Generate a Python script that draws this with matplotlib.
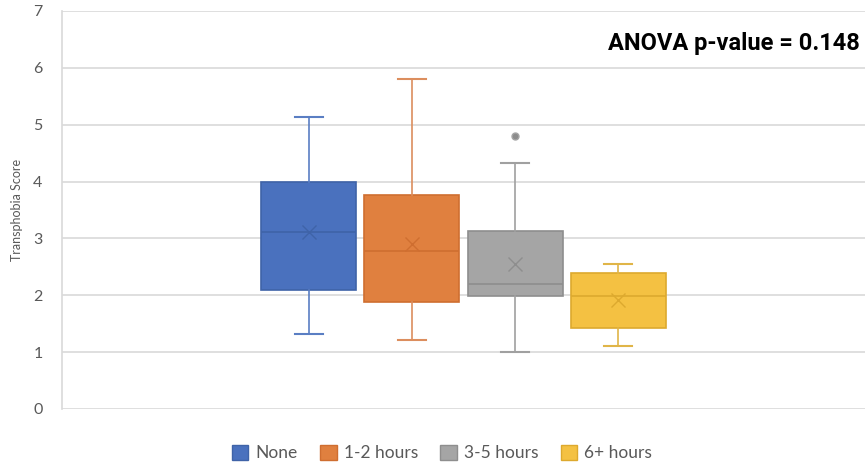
import matplotlib
matplotlib.use('Agg')
import matplotlib.pyplot as plt
from matplotlib.patches import Patch

groups = ['None', '1-2 hours', '3-5 hours', '6+ hours']
whislo = [1.32, 1.21, 1.00, 1.11]
q1 = [2.09, 1.88, 1.99, 1.42]
medians = [3.11, 2.78, 2.20, 1.99]
q3 = [4.00, 3.76, 3.13, 2.39]
whishi = [5.13, 5.80, 4.32, 2.55]
means = [3.11, 2.90, 2.55, 1.92]
outliers = [[], [], [4.80], []]

fills = ['#4A71BE', '#E0803F', '#A5A5A5', '#F4C142']
edges = ['#3F63A8', '#CF6E30', '#8E8E8E', '#DDA92E']
whisker_cols = ['#5A7EC3', '#DC8E5E', '#A0A0A0', '#E0B548']

plt.rcParams['font.family'] = ['Lato', 'DejaVu Sans']

fig = plt.figure(figsize=(8.65, 4.63), dpi=100)
ax = fig.add_axes([62 / 865, (463 - 409) / 463, (865 - 62) / 865, 398 / 463])

for i, g in enumerate(groups):
    stats = [{
        'label': g, 'whislo': whislo[i], 'q1': q1[i], 'med': medians[i],
        'q3': q3[i], 'whishi': whishi[i], 'mean': means[i], 'fliers': outliers[i],
    }]
    ax.bxp(stats, positions=[i], widths=0.92, capwidths=0.27, patch_artist=True,
           showmeans=True, manage_ticks=False,
           boxprops=dict(facecolor=fills[i], edgecolor=edges[i], linewidth=1.2),
           medianprops=dict(color=edges[i], linewidth=1.2),
           whiskerprops=dict(color=whisker_cols[i], linewidth=1.2),
           capprops=dict(color=whisker_cols[i], linewidth=1.5),
           meanprops=dict(marker='x', markeredgecolor=edges[i], markersize=10,
                          markeredgewidth=1.0),
           flierprops=dict(marker='o', markerfacecolor='#8C8C8C',
                           markeredgecolor='#A5A5A5', markersize=5))

ax.set_xlim(-2.39, 5.39)
ax.set_ylim(0, 7)
ax.set_yticks(range(0, 8))
ax.set_xticks([])
ax.grid(axis='y', color='#D9D9D9', linewidth=1.2)
ax.set_axisbelow(True)
for s in ['top', 'right', 'bottom']:
    ax.spines[s].set_visible(False)
ax.spines['left'].set_color('#D9D9D9')
ax.spines['left'].set_linewidth(1.2)
ax.tick_params(axis='y', length=0, pad=14, labelsize=11.5, labelcolor='#595959')
ax.set_ylabel('Transphobia Score', fontsize=9, color='#595959', labelpad=7)

ax.text(0.993, 0.918, 'ANOVA p-value = 0.148', transform=ax.transAxes,
        ha='right', va='center', fontsize=17, fontweight='bold',
        family='Roboto', color='black')

handles = [Patch(facecolor=fills[i], edgecolor=edges[i]) for i in range(4)]
fig.legend(handles, groups, loc='center', bbox_to_anchor=(442 / 865, 10 / 463),
           ncol=4, frameon=False, fontsize=12.5, labelcolor='#595959',
           handlelength=0.95, handleheight=0.95, handletextpad=0.4,
           columnspacing=1.3)

fig.savefig('out.png', dpi=100)
